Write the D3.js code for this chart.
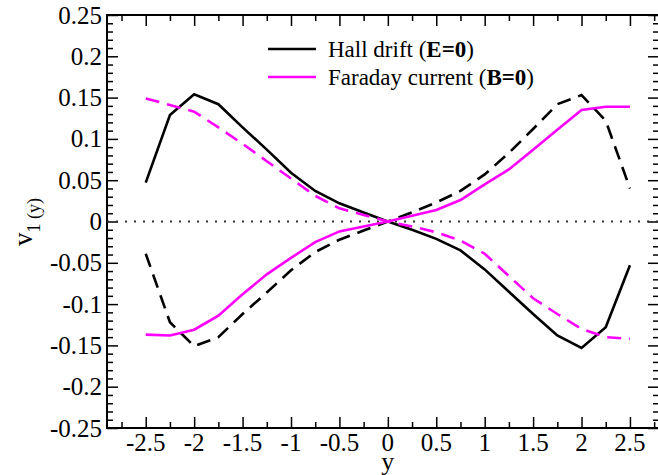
<!DOCTYPE html>
<html>
<head>
<meta charset="utf-8">
<script src="https://cdn.jsdelivr.net/npm/d3@7"></script>
<style>
  body { margin: 0; background: #fff; }
  text { font-family: "Liberation Serif", "Times New Roman", serif; fill: #000; }
</style>
</head>
<body>
<svg width="658" height="475"></svg>
<script>
// sample positions along y
const ys = [-2.5, -2.25, -2, -1.75, -1.5, -1.25, -1, -0.75, -0.5, -0.25, 0,
            0.25, 0.5, 0.75, 1, 1.25, 1.5, 1.75, 2, 2.25, 2.5];

// Hall drift (E=0), black
const hallSolid  = [0.047, 0.129, 0.154, 0.142, 0.114, 0.087, 0.059, 0.037, 0.022, 0.011, 0,
                    -0.010, -0.021, -0.035, -0.058, -0.085, -0.112, -0.138, -0.153, -0.128, -0.053];
const hallDashed = [-0.039, -0.122, -0.151, -0.140, -0.112, -0.086, -0.059, -0.037, -0.022, -0.011, 0,
                    0.011, 0.023, 0.037, 0.057, 0.083, 0.112, 0.142, 0.153, 0.122, 0.040];

// Faraday current (B=0), magenta
const faradaySolid  = [-0.137, -0.138, -0.131, -0.114, -0.088, -0.064, -0.044, -0.025, -0.012, -0.006, 0,
                       0.007, 0.014, 0.026, 0.045, 0.063, 0.087, 0.111, 0.135, 0.139, 0.139];
const faradayDashed = [0.149, 0.141, 0.133, 0.114, 0.094, 0.073, 0.052, 0.031, 0.016, 0.008, 0,
                       -0.006, -0.013, -0.023, -0.039, -0.066, -0.093, -0.112, -0.130, -0.140, -0.142];

const xTicks = [-2.5, -2, -1.5, -1, -0.5, 0, 0.5, 1, 1.5, 2, 2.5];
const xMinor = [-2.75, -2.25, -1.75, -1.25, -0.75, -0.25, 0.25, 0.75, 1.25, 1.75, 2.25, 2.75];
const yTicks = [-0.25, -0.2, -0.15, -0.1, -0.05, 0, 0.05, 0.1, 0.15, 0.2, 0.25];
const legendLabels = [["Hall drift (", "E=0", ")"], ["Faraday current (", "B=0", ")"]];

let svg = d3.select("svg");
svg.append("rect").attr("width", 658).attr("height", 475).attr("fill", "#fff");

let x = d3.scaleLinear().domain([-2.9, 2.8]).range([107, 659]);
let y = d3.scaleLinear().domain([-0.25, 0.25]).range([428, 15]);

let yMinor = d3.range(-25, 26).map(d => d / 100).filter(d => !yTicks.some(t => Math.abs(t - d) < 1e-9));

// ticks on all four sides, pointing inward
let axes = [
  [() => d3.axisBottom(x), "translate(0,428)", xTicks, xMinor],
  [() => d3.axisTop(x), "translate(0,15)", xTicks, xMinor],
  [() => d3.axisLeft(y), "translate(107,0)", yTicks, yMinor],
  [() => d3.axisRight(y), "translate(659,0)", yTicks, yMinor]
];
axes.forEach(function(a) {
  [[a[2], 11], [a[3], 6]].forEach(function(t) {
    let g = svg.append("g").attr("transform", a[1])
      .call(a[0]().tickValues(t[0]).tickSizeInner(-t[1]).tickSizeOuter(0).tickFormat(""));
    g.select(".domain").remove();
    g.selectAll("line").attr("stroke", "#000").attr("stroke-width", 1.5);
  });
});

// tick labels
svg.append("g").selectAll("text").data(xTicks).join("text")
  .attr("x", d => x(d)).attr("y", 451)
  .attr("text-anchor", "middle").attr("font-size", 25)
  .text(d => d);
svg.append("g").selectAll("text").data(yTicks).join("text")
  .attr("x", 102).attr("y", d => y(d) + 8.5)
  .attr("text-anchor", "end").attr("font-size", 25)
  .text(d => d);

// frame
svg.append("rect").attr("x", 107).attr("y", 15).attr("width", 552).attr("height", 413)
  .attr("fill", "none").attr("stroke", "#000").attr("stroke-width", 2);

// zero line
svg.append("line").attr("x1", x(-2.9)).attr("x2", x(2.8)).attr("y1", y(0)).attr("y2", y(0))
  .attr("stroke", "#333").attr("stroke-width", 2).attr("stroke-dasharray", "2,7");

let line = d3.line().x((d, i) => x(ys[i])).y(d => y(d));
let series = [
  [hallSolid, "#000", null],
  [hallDashed, "#000", "14,8"],
  [faradaySolid, "#ff00ff", null],
  [faradayDashed, "#ff00ff", "14,8"]
];
series.forEach(function(s) {
  svg.append("path").attr("d", line(s[0]))
    .attr("fill", "none").attr("stroke", s[1]).attr("stroke-width", 2.6)
    .attr("stroke-dasharray", s[2]);
});

// legend
let legend = svg.append("g");
legendLabels.forEach(function(lab, i) {
  let ly = 49 + i * 28;
  legend.append("line").attr("x1", 268).attr("x2", 316).attr("y1", ly).attr("y2", ly)
    .attr("stroke", i === 0 ? "#000" : "#ff00ff").attr("stroke-width", 2.6);
  let t = legend.append("text").attr("x", 328).attr("y", ly + 8).attr("font-size", 23);
  t.append("tspan").text(lab[0]);
  t.append("tspan").attr("font-weight", "bold").text(lab[1]);
  t.append("tspan").text(lab[2]);
});

// axis titles
svg.append("text").attr("x", x(0)).attr("y", 470).attr("text-anchor", "middle")
  .attr("font-size", 26).text("y");
let yl = svg.append("text").attr("transform", "translate(32,222) rotate(-90)")
  .attr("text-anchor", "middle").attr("font-size", 27);
yl.append("tspan").text("v");
yl.append("tspan").attr("font-size", 18).attr("dy", 8).text("1 (y)");
</script>
</body>
</html>
